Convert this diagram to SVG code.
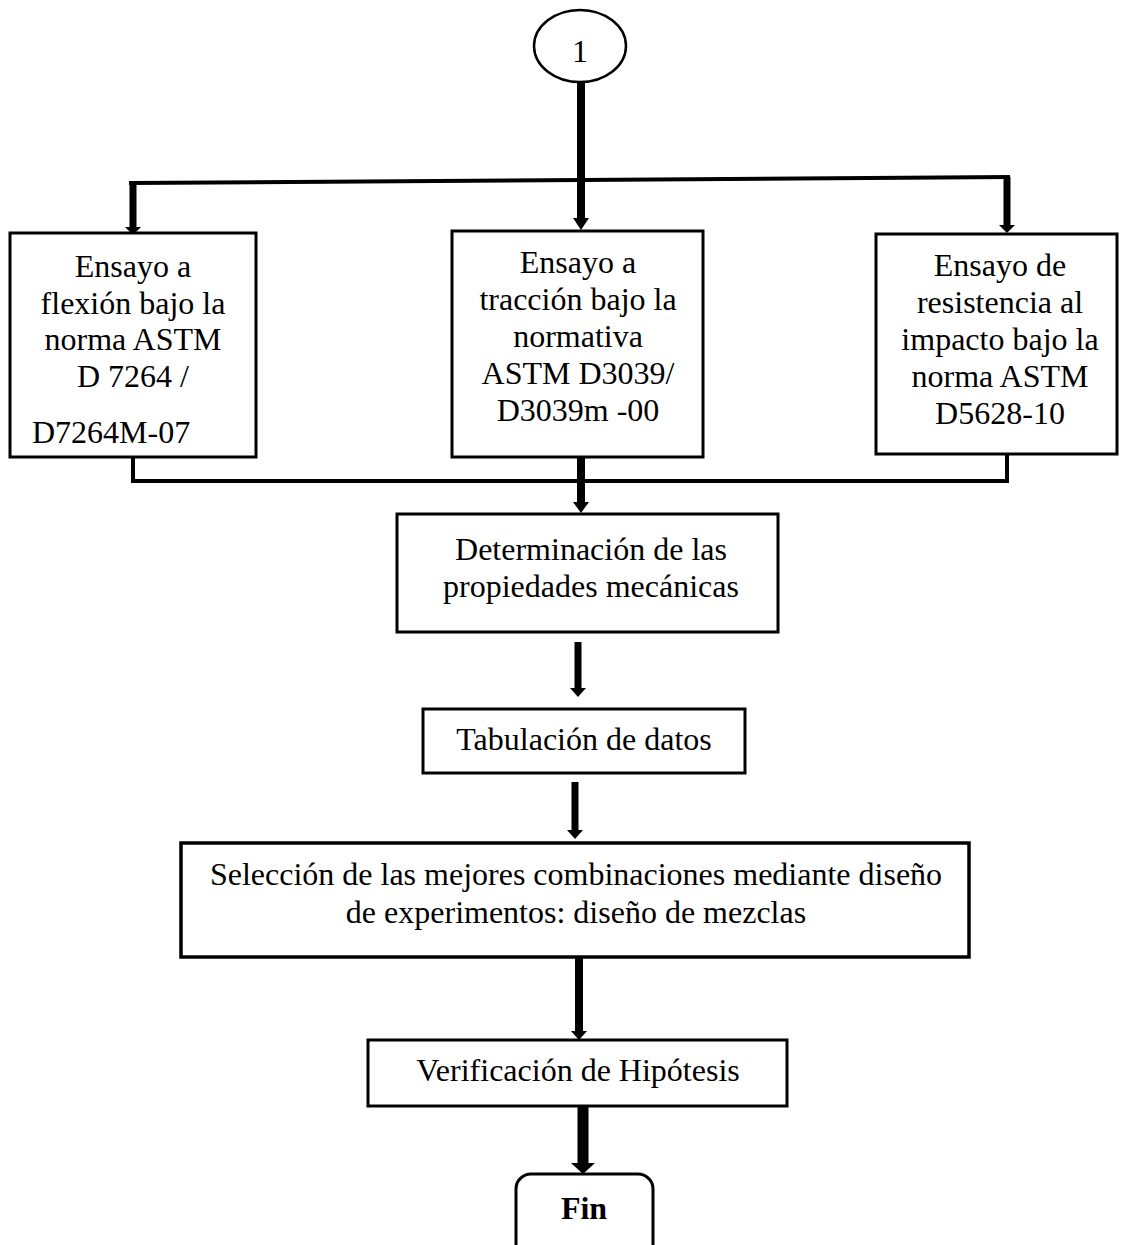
<svg xmlns="http://www.w3.org/2000/svg" width="1121" height="1245" viewBox="0 0 1121 1245">
  <style>
    .box { fill: #ffffff; stroke: #000000; stroke-width: 3; }
    .t { font-family: "Liberation Serif", "Times New Roman", serif; font-size: 32px; fill: #000000; text-anchor: middle; }
    .tl { text-anchor: start; }
    .b { font-weight: bold; }
    .wire { fill: none; stroke: #000000; stroke-width: 4; stroke-linecap: square; }
    .shaft { fill: none; stroke: #000000; stroke-width: 8; }
    .head { fill: #000000; stroke: none; }
  </style>

  <!-- connector group: fan-out, collector and arrows -->
  <g id="connectors">
    <!-- from the connector "1" down to the fan-out bar -->
    <line class="shaft" x1="581" y1="83" x2="581" y2="220"/>
    <polygon class="head" points="573,218 589,218 581,230"/>
    <!-- fan-out bar -->
    <line class="wire" x1="131" y1="183" x2="1008" y2="177"/>
    <line class="shaft" x1="133" y1="183" x2="133" y2="228" style="stroke-width:7"/>
    <polygon class="head" points="125,227 141,227 133,235"/>
    <line class="shaft" x1="1007" y1="177" x2="1007" y2="226" style="stroke-width:7"/>
    <polygon class="head" points="999,225 1015,225 1007,233"/>
    <!-- collector under the three tests -->
    <polyline class="wire" points="133,457 133,481 1007,481 1007,454"/>
    <line class="shaft" x1="581" y1="457" x2="581" y2="503"/>
    <polygon class="head" points="573,502 589,502 581,513"/>
    <!-- Determinación -> Tabulación -->
    <line class="shaft" x1="578" y1="642" x2="578" y2="690" style="stroke-width:7"/>
    <polygon class="head" points="570,688 586,688 578,697"/>
    <!-- Tabulación -> Selección -->
    <line class="shaft" x1="575" y1="782" x2="575" y2="832" style="stroke-width:7"/>
    <polygon class="head" points="567,830 583,830 575,839"/>
    <!-- Selección -> Verificación -->
    <line class="shaft" x1="579" y1="958" x2="579" y2="1032" style="stroke-width:8"/>
    <polygon class="head" points="571,1031 587,1031 579,1040"/>
    <!-- Verificación -> Fin -->
    <line class="shaft" x1="583" y1="1106" x2="583" y2="1165" style="stroke-width:11"/>
    <polygon class="head" points="571,1163 595,1163 583,1174"/>
  </g>

  <g id="connector-1">
    <ellipse cx="580" cy="46" rx="46" ry="36" fill="#ffffff" stroke="#000000" stroke-width="2.5"/>
    <text class="t" x="580" y="62">1</text>
  </g>

  <g id="ensayo-flexion">
    <rect class="box" x="10" y="233" width="246" height="224"/>
    <text class="t" x="133" y="277">Ensayo a</text>
    <text class="t" x="133" y="314">flexión bajo la</text>
    <text class="t" x="133" y="350">norma ASTM</text>
    <text class="t" x="133" y="387">D 7264 /</text>
    <text class="t tl" x="32" y="443">D7264M-07</text>
  </g>

  <g id="ensayo-traccion">
    <rect class="box" x="452" y="231" width="251" height="226"/>
    <text class="t" x="578" y="273">Ensayo a</text>
    <text class="t" x="578" y="310">tracción bajo la</text>
    <text class="t" x="578" y="347">normativa</text>
    <text class="t" x="578" y="384">ASTM D3039/</text>
    <text class="t" x="578" y="421">D3039m -00</text>
  </g>

  <g id="ensayo-impacto">
    <rect class="box" x="876" y="234" width="241" height="220"/>
    <text class="t" x="1000" y="276">Ensayo de</text>
    <text class="t" x="1000" y="313">resistencia al</text>
    <text class="t" x="1000" y="350">impacto bajo la</text>
    <text class="t" x="1000" y="387">norma ASTM</text>
    <text class="t" x="1000" y="424">D5628-10</text>
  </g>

  <g id="determinacion">
    <rect class="box" x="397" y="514" width="381" height="118"/>
    <text class="t" x="591" y="560">Determinación de las</text>
    <text class="t" x="591" y="597">propiedades mecánicas</text>
  </g>

  <g id="tabulacion">
    <rect class="box" x="423" y="709" width="322" height="64"/>
    <text class="t" x="584" y="750">Tabulación de datos</text>
  </g>

  <g id="seleccion">
    <rect class="box" x="181" y="843" width="788" height="114" style="stroke-width:3.5"/>
    <text class="t" x="576" y="885">Selección de las mejores combinaciones mediante diseño</text>
    <text class="t" x="576" y="923">de experimentos: diseño de mezclas</text>
  </g>

  <g id="verificacion">
    <rect class="box" x="368" y="1040" width="419" height="66"/>
    <text class="t" x="578" y="1081">Verificación de Hipótesis</text>
  </g>

  <g id="fin">
    <rect class="box" x="516" y="1174" width="137" height="100" rx="15" ry="15"/>
    <text class="t b" x="584" y="1219">Fin</text>
  </g>
</svg>
